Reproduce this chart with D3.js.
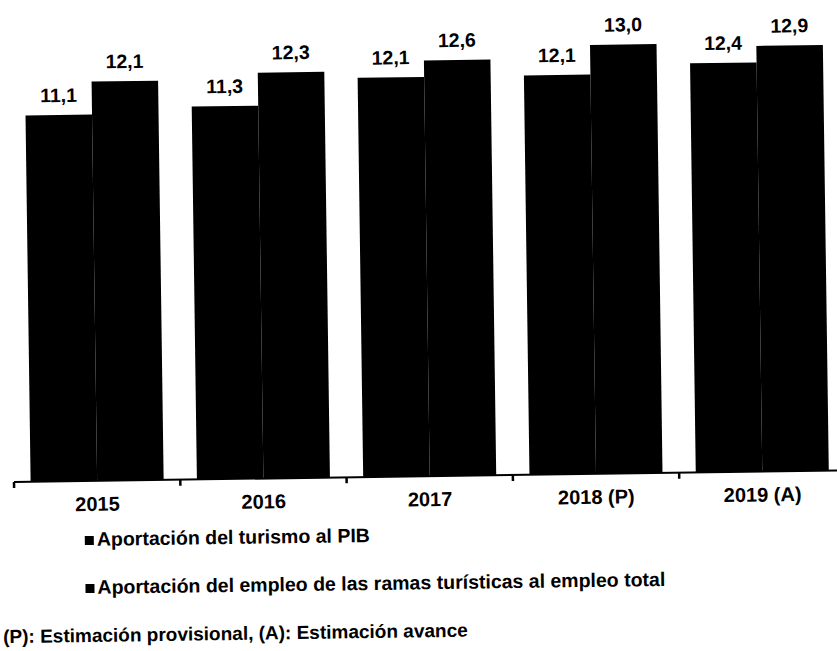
<!DOCTYPE html>
<meta charset="utf-8">
<head>
<style>
  body { margin: 0; background: #fff; }
  text { font-family: "Liberation Sans", Arial, sans-serif; font-weight: bold; fill: #000; }
</style>
</head>
<script src="https://d3js.org/d3.v7.min.js"></script>
<div id="chart"></div>
<script>
// data
var years = ["2015", "2016", "2017", "2018 (P)", "2019 (A)"];
var seriesNames = ["Aportación del turismo al PIB",
                   "Aportación del empleo de las ramas turísticas al empleo total"];
var pibValues    = [11.1, 11.3, 12.1, 12.1, 12.4];
var empleoValues = [12.1, 12.3, 12.6, 13.0, 12.9];
var footNote = "(P): Estimación provisional, (A): Estimación avance";

var width = 837, height = 651;
var svg = d3.select("#chart").append("svg")
    .attr("width", width)
    .attr("height", height);

// the original is a slightly tilted scan, so the whole drawing is turned a little
var g = svg.append("g")
    .attr("transform", "rotate(-0.8, 14, 482)");

var rows = years.map(function(d, i) {
  return {year: d, values: [pibValues[i], empleoValues[i]]};
});

var x0 = d3.scaleBand()
    .domain(years)
    .range([14, 845.5])
    .paddingInner(0.2)
    .paddingOuter(0.1);

var x1 = d3.scaleBand()
    .domain([0, 1])
    .range([0, x0.bandwidth()]);

var y = d3.scaleLinear()
    .domain([0, 14])
    .range([482, 20]);

// bars
var groups = g.selectAll(".year")
  .data(rows)
  .enter().append("g")
    .attr("transform", function(d) { return "translate(" + x0(d.year) + ",0)"; });

groups.selectAll("rect")
  .data(function(d) { return d.values; })
  .enter().append("rect")
    .attr("x", function(d, i) { return x1(i); })
    .attr("y", function(d) { return y(d); })
    .attr("width", x1.bandwidth())
    .attr("height", function(d) { return y(0) - y(d); })
    .attr("fill", "#000");

// value labels
groups.selectAll(".val")
  .data(function(d) { return d.values; })
  .enter().append("text")
    .attr("class", "val")
    .attr("x", function(d, i) { return x1(i) + x1.bandwidth() / 2; })
    .attr("y", function(d) { return y(d) - 13; })
    .attr("text-anchor", "middle")
    .style("font-size", "19.5px")
    .text(function(d) { return d3.format(".1f")(d).replace(".", ","); });

// category axis: baseline with ticks at the band boundaries
var step = x0.step();
var edges = years.map(function(d) { return x0(d) - step * x0.paddingOuter(); });
edges.push(x0(years[years.length - 1]) + x0.bandwidth() + step * x0.paddingOuter());

g.append("line")
    .attr("x1", edges[0]).attr("x2", edges[edges.length - 1])
    .attr("y1", y(0)).attr("y2", y(0))
    .attr("stroke", "#000")
    .attr("stroke-width", 2);

g.selectAll(".tick")
  .data(edges)
  .enter().append("line")
    .attr("x1", function(d) { return d; })
    .attr("x2", function(d) { return d; })
    .attr("y1", y(0))
    .attr("y2", y(0) + 6)
    .attr("stroke", "#000")
    .attr("stroke-width", 2.5);

g.selectAll(".cat")
  .data(years)
  .enter().append("text")
    .attr("x", function(d) { return x0(d) + x0.bandwidth() / 2; })
    .attr("y", y(0) + 30)
    .attr("text-anchor", "middle")
    .style("font-size", "20px")
    .text(function(d) { return d; });

// legend
var legend = g.selectAll(".legend")
  .data(seriesNames)
  .enter().append("g")
    .attr("transform", function(d, i) { return "translate(84," + (547 + i * 48) + ")"; });

legend.append("rect")
    .attr("x", 0)
    .attr("y", -10)
    .attr("width", 9)
    .attr("height", 9)
    .attr("fill", "#000");

legend.append("text")
    .attr("x", 12)
    .attr("y", 0)
    .style("font-size", "19.5px")
    .text(function(d) { return d; });

// footnote
g.append("text")
    .attr("x", 1)
    .attr("y", 643)
    .style("font-size", "19px")
    .text(footNote);
</script>
